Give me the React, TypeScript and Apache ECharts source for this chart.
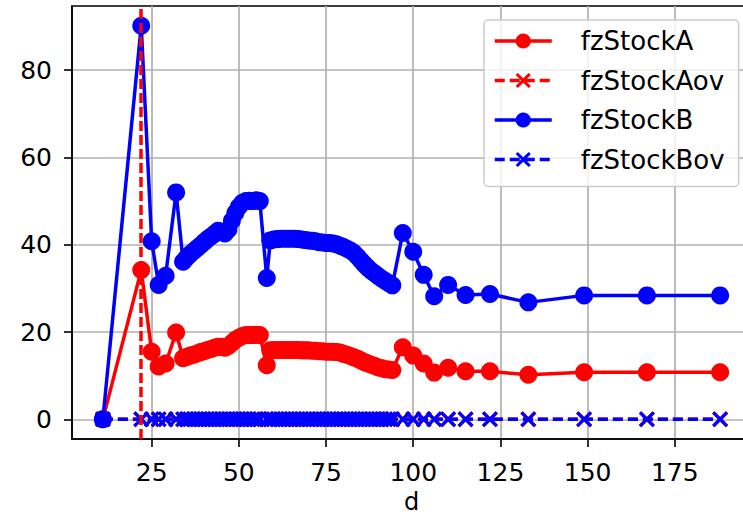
import React, { useEffect, useRef } from "react";
import * as echarts from "echarts";

const dValues = [
  11, 22, 25, 27, 29, 32,
  34, 35, 36, 37, 38, 39, 40, 41, 42, 43, 44, 45, 46, 47, 48, 49, 50, 51, 52, 53, 54, 55, 56,
  58,
  59, 60, 61, 62, 63, 64, 65, 66, 67, 68, 69, 70, 71, 72, 73, 74, 75, 76, 77, 78, 79, 80,
  81, 82, 83, 84, 85, 86, 87, 88, 89, 90, 91, 92, 93, 94,
  97, 100, 103, 106, 110, 115, 122, 133, 149, 167, 188,
];

const stockB = [
  0, 90.2, 40.8, 30.8, 32.9, 52.0,
  36.1, 37.0, 37.8, 38.5, 39.2, 39.9, 40.6, 41.3, 41.9, 42.5, 43.2, 43.0, 42.6, 43.5, 45.5, 47.3, 48.7, 49.6, 50.0, 50.1, 50.0, 50.2, 50.0,
  32.4,
  41.0, 41.2, 41.3, 41.4, 41.4, 41.4, 41.4, 41.4, 41.3, 41.2, 41.1, 41.0, 40.9, 40.8, 40.6, 40.5, 40.4, 40.4, 40.3, 40.1, 39.8, 39.5,
  39.1, 38.7, 38.1, 37.3, 36.4, 35.5, 34.7, 34.0, 33.4, 32.8, 32.2, 31.7, 31.2, 30.7,
  42.7, 38.4, 33.1, 28.2, 30.8, 28.5, 28.7, 26.8, 28.4, 28.4, 28.4,
];

const stockA = [
  0, 34.2, 15.5, 12.1, 12.8, 19.9,
  14.0, 14.3, 14.6, 14.8, 15.1, 15.4, 15.6, 15.9, 16.1, 16.4, 16.6, 16.6, 16.4, 16.8, 17.5, 18.2, 18.7, 19.1, 19.3, 19.3, 19.3, 19.4, 19.3,
  12.4,
  15.8, 15.9, 15.9, 15.9, 15.9, 15.9, 15.9, 15.9, 15.9, 15.8, 15.8, 15.8, 15.7, 15.7, 15.6, 15.6, 15.5, 15.5, 15.5, 15.4, 15.3, 15.0,
  14.8, 14.5, 14.2, 13.9, 13.5, 13.1, 12.8, 12.5, 12.2, 11.9, 11.7, 11.5, 11.4, 11.3,
  16.5, 14.6, 12.8, 10.7, 11.8, 11.0, 11.0, 10.2, 10.8, 10.8, 10.8,
];

const stockAov = [
  0, 0, 0, 0, 0, 0,
  0, 0, 0, 0, 0, 0, 0, 0, 0, 0, 0, 0, 0, 0, 0, 0, 0, 0, 0, 0, 0, 0, 0,
  0,
  0, 0, 0, 0, 0, 0, 0, 0, 0, 0, 0, 0, 0, 0, 0, 0, 0, 0, 0, 0, 0, 0,
  0, 0, 0, 0, 0, 0, 0, 0, 0, 0, 0, 0, 0, 0,
  0, 0, 0, 0, 0, 0, 0, 0, 0, 0, 0,
];

const stockBov = [
  0, 0, 0, 0, 0, 0,
  0, 0, 0, 0, 0, 0, 0, 0, 0, 0, 0, 0, 0, 0, 0, 0, 0, 0, 0, 0, 0, 0, 0,
  0,
  0, 0, 0, 0, 0, 0, 0, 0, 0, 0, 0, 0, 0, 0, 0, 0, 0, 0, 0, 0, 0, 0,
  0, 0, 0, 0, 0, 0, 0, 0, 0, 0, 0, 0, 0, 0,
  0, 0, 0, 0, 0, 0, 0, 0, 0, 0, 0,
];

const aovMarkerD = 22;
const xTicks = [25, 50, 75, 100, 125, 150, 175];
const yTicks = [0, 20, 40, 60, 80];
const seriesNames = ["fzStockA", "fzStockAov", "fzStockB", "fzStockBov"];

const X_SYMBOL =
  "path://M0,2.3L2.3,0L8,5.7L13.7,0L16,2.3L10.3,8L16,13.7L13.7,16L8,10.3L2.3,16L0,13.7L5.7,8Z";

const FONT = "DejaVu Sans";

function pairs(ys: number[]) {
  return dValues.map((d, i) => [d, ys[i]]);
}

export default function App() {
  const ref = useRef<HTMLDivElement>(null);

  useEffect(() => {
    if (!ref.current) return;
    const chart = echarts.init(ref.current, undefined, { renderer: "svg" });
    const red = "#ff0000";
    const blue = "#0000ff";
    const option: any = {
      animation: false,
      textStyle: { fontFamily: FONT },
      grid: {
        left: 72,
        top: 6,
        width: 679,
        height: 433,
        outerBoundsMode: "none",
        containLabel: false,
        show: true,
        borderColor: "#000",
        borderWidth: 1.6,
        backgroundColor: "transparent",
      },
      legend: {
        orient: "vertical",
        left: 484,
        top: 20,
        padding: [8, 14, 14, 9],
        itemWidth: 57,
        itemHeight: 19,
        itemGap: 13.5,
        backgroundColor: "rgba(255,255,255,0.8)",
        borderColor: "#cccccc",
        borderWidth: 1.5,
        borderRadius: 4,
        lineStyle: { width: 3.5 },
        textStyle: {
          fontSize: 26,
          color: "#000",
          fontFamily: FONT,
          padding: [0, 0, 0, 24],
        },
        data: seriesNames,
      },
      xAxis: {
        type: "value",
        min: 2.15,
        max: 196.85,
        name: "d",
        nameLocation: "middle",
        nameGap: 50,
        nameTextStyle: { fontSize: 24, lineHeight: 22, color: "#000", fontFamily: FONT },
        axisLine: { show: true, onZero: false, lineStyle: { color: "#000", width: 1.6 } },
        axisTick: {
          show: true,
          length: 8,
          customValues: xTicks,
          lineStyle: { color: "#000", width: 1.6 },
        },
        axisLabel: {
          customValues: xTicks,
          fontSize: 25,
          color: "#000",
          margin: 21,
          fontFamily: FONT,
        },
        splitLine: { show: true, lineStyle: { color: "#b0b0b0", width: 1.7 } },
      },
      yAxis: {
        type: "value",
        min: -4.51,
        max: 94.71,
        axisLine: { show: true, onZero: false, lineStyle: { color: "#000", width: 1.6 } },
        axisTick: {
          show: true,
          length: 8,
          customValues: yTicks,
          lineStyle: { color: "#000", width: 1.6 },
        },
        axisLabel: {
          customValues: yTicks,
          fontSize: 25,
          color: "#000",
          margin: 20,
          fontFamily: FONT,
        },
        splitLine: { show: true, lineStyle: { color: "#b0b0b0", width: 1.7 } },
      },
      series: [
        {
          name: seriesNames[0],
          type: "line",
          data: pairs(stockA),
          symbol: "circle",
          symbolSize: 18,
          showSymbol: true,
          itemStyle: { color: red },
          lineStyle: { color: red, width: 3.5 },
          clip: false,
        },
        {
          name: seriesNames[1],
          type: "line",
          data: pairs(stockAov),
          symbol: X_SYMBOL,
          symbolSize: 16,
          showSymbol: true,
          itemStyle: { color: red },
          lineStyle: { color: red, width: 3.5, type: [10, 5] },
          clip: false,
          markLine: {
            silent: true,
            symbol: "none",
            label: { show: false },
            z: 10,
            lineStyle: { color: red, width: 3.5, type: [10, 4] },
            data: [{ xAxis: aovMarkerD }],
          },
        },
        {
          name: seriesNames[2],
          type: "line",
          data: pairs(stockB),
          symbol: "circle",
          symbolSize: 18,
          showSymbol: true,
          itemStyle: { color: blue },
          lineStyle: { color: blue, width: 3.5 },
          clip: false,
        },
        {
          name: seriesNames[3],
          type: "line",
          data: pairs(stockBov),
          symbol: X_SYMBOL,
          symbolSize: 16,
          showSymbol: true,
          itemStyle: { color: blue },
          lineStyle: { color: blue, width: 3.5, type: [10, 5] },
          clip: false,
        },
      ],
    };
    chart.setOption(option);
    return () => {
      chart.dispose();
    };
  }, []);

  return (
    <div
      ref={ref}
      style={{ position: "absolute", left: 0, top: 0, width: 743, height: 518 }}
    />
  );
}
